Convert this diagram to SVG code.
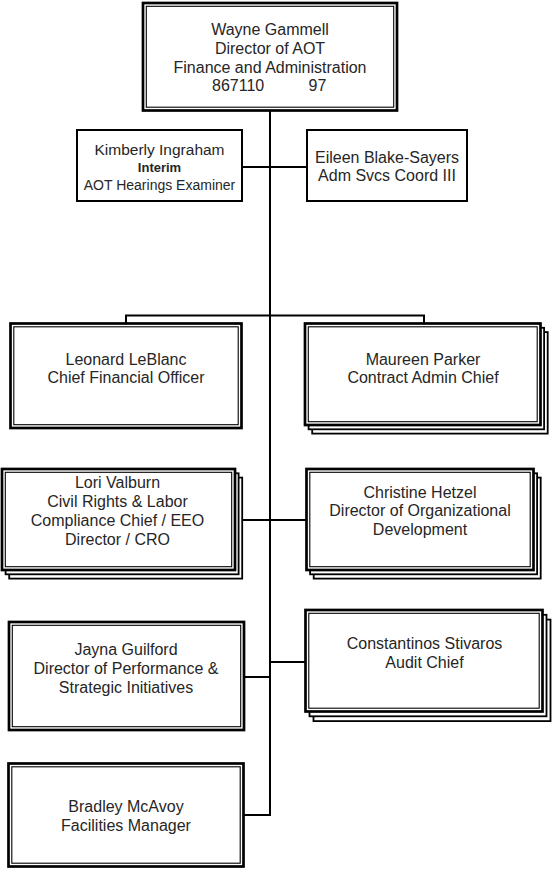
<svg xmlns="http://www.w3.org/2000/svg" width="555" height="869" viewBox="0 0 555 869">
<style>
  text { font-family: "Liberation Sans", Arial, sans-serif; font-size: 16px; fill: #262626; text-anchor: middle; }
  .bold { font-weight: bold; font-size: 13px; }
  .sm { font-size: 14px; }
  .single { fill: #fff; stroke: #000; stroke-width: 2; }
  .outer { fill: #fff; stroke: #000; stroke-width: 2.7; }
  .inner { fill: none; stroke: #000; stroke-width: 1.1; }
  .shadow { fill: #fff; stroke: #000; stroke-width: 1.8; }
  .conn { fill: none; stroke: #000; stroke-width: 2; }
</style>
<rect width="555" height="869" fill="#fff"/>

<g id="connectors">
  <path class="conn" d="M270 110.5 V815 H243.5"/>
  <path class="conn" d="M242 167 H307"/>
  <path class="conn" d="M126 323.5 V315.5 H424 V323.5"/>
  <path class="conn" d="M235 520 H306.5"/>
  <path class="conn" d="M270 662 H305.5"/>
  <path class="conn" d="M244 677 H270"/>
</g>

<g id="wayne-gammell">
  <rect class="outer" x="143" y="3" width="254" height="107.5"/>
  <rect class="inner" x="146.3" y="6.3" width="247.4" height="100.9"/>
  <text x="270" y="35">Wayne Gammell</text>
  <text x="270" y="54">Director of AOT</text>
  <text x="270" y="72.5">Finance and Administration</text>
  <text y="91" style="text-anchor:start"><tspan x="212">867110</tspan><tspan x="308.5">97</tspan></text>
</g>

<g id="kimberly-ingraham">
  <rect class="single" x="77" y="130" width="165" height="71"/>
  <text x="159.5" y="155" style="font-size:15.5px">Kimberly Ingraham</text>
  <text class="bold" x="159.5" y="171.5">Interim</text>
  <text class="sm" x="159.5" y="189.5">AOT Hearings Examiner</text>
</g>

<g id="eileen-blake-sayers">
  <rect class="single" x="307" y="130" width="160" height="71"/>
  <text x="387" y="162.5">Eileen Blake-Sayers</text>
  <text x="387" y="181">Adm Svcs Coord III</text>
</g>

<g id="leonard-leblanc">
  <rect class="outer" x="10.5" y="323.5" width="231" height="104.5"/>
  <rect class="inner" x="13.8" y="326.8" width="224.4" height="97.9"/>
  <text x="126" y="364.5">Leonard LeBlanc</text>
  <text x="126" y="383">Chief Financial Officer</text>
</g>

<g id="maureen-parker">
  <rect class="shadow" x="312.2" y="332.1" width="235.5" height="101.5"/>
  <rect class="shadow" x="308.6" y="327.8" width="235.5" height="101.5"/>
  <rect class="outer" x="305" y="323.5" width="235.5" height="101.5"/>
  <rect class="inner" x="308.3" y="326.8" width="228.9" height="94.9"/>
  <text x="423" y="364.5">Maureen Parker</text>
  <text x="423" y="383">Contract Admin Chief</text>
</g>

<g id="lori-valburn">
  <rect class="shadow" x="9.2" y="477.6" width="233" height="101"/>
  <rect class="shadow" x="5.6" y="473.3" width="233" height="101"/>
  <rect class="outer" x="2" y="469" width="233" height="101"/>
  <rect class="inner" x="5.3" y="472.3" width="226.4" height="94.4"/>
  <text x="117.5" y="488">Lori Valburn</text>
  <text x="117.5" y="507">Civil Rights &amp; Labor</text>
  <text x="117.5" y="526">Compliance Chief / EEO</text>
  <text x="117.5" y="545">Director / CRO</text>
</g>

<g id="christine-hetzel">
  <rect class="shadow" x="313.7" y="477.6" width="227" height="101"/>
  <rect class="shadow" x="310.1" y="473.3" width="227" height="101"/>
  <rect class="outer" x="306.5" y="469" width="227" height="101"/>
  <rect class="inner" x="309.8" y="472.3" width="220.4" height="94.4"/>
  <text x="420" y="497.5">Christine Hetzel</text>
  <text x="420" y="516">Director of Organizational</text>
  <text x="420" y="534.5">Development</text>
</g>

<g id="jayna-guilford">
  <rect class="outer" x="9" y="622" width="235" height="108"/>
  <rect class="inner" x="12.3" y="625.3" width="228.4" height="101.4"/>
  <text x="126" y="655">Jayna Guilford</text>
  <text x="126" y="674">Director of Performance &amp;</text>
  <text x="126" y="693">Strategic Initiatives</text>
</g>

<g id="constantinos-stivaros">
  <rect class="shadow" x="313.5" y="619.6" width="237" height="101.5"/>
  <rect class="shadow" x="309.5" y="614.8" width="237" height="101.5"/>
  <rect class="outer" x="305.5" y="610" width="237" height="101.5"/>
  <rect class="inner" x="308.8" y="613.3" width="230.4" height="94.9"/>
  <text x="424.5" y="649">Constantinos Stivaros</text>
  <text x="424.5" y="667.5">Audit Chief</text>
</g>

<g id="bradley-mcavoy">
  <rect class="outer" x="8.5" y="763.5" width="235" height="103"/>
  <rect class="inner" x="11.8" y="766.8" width="228.4" height="96.4"/>
  <text x="126" y="812">Bradley McAvoy</text>
  <text x="126" y="830.5">Facilities Manager</text>
</g>
</svg>
